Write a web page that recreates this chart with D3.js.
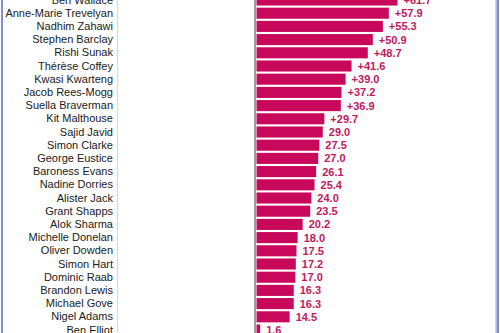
<!DOCTYPE html>
<html><head><meta charset="utf-8">
<script src="https://cdn.jsdelivr.net/npm/d3@7"></script>
<style>html,body{margin:0;padding:0;background:#fff;overflow:hidden}</style>
</head><body>
<svg id="chart" width="500" height="333"></svg>
<script>
const names = ["Ben Wallace","Anne-Marie Trevelyan","Nadhim Zahawi","Stephen Barclay","Rishi Sunak","Thérèse Coffey","Kwasi Kwarteng","Jacob Rees-Mogg","Suella Braverman","Kit Malthouse","Sajid Javid","Simon Clarke","George Eustice","Baroness Evans","Nadine Dorries","Alister Jack","Grant Shapps","Alok Sharma","Michelle Donelan","Oliver Dowden","Simon Hart","Dominic Raab","Brandon Lewis","Michael Gove","Nigel Adams","Ben Elliot"];
const values = [61.7,57.9,55.3,50.9,48.7,41.6,39.0,37.2,36.9,29.7,29.0,27.5,27.0,26.1,25.4,24.0,23.5,20.2,18.0,17.5,17.2,17.0,16.3,16.3,14.5,1.6];
const labels = ["+61.7","+57.9","+55.3","+50.9","+48.7","+41.6","+39.0","+37.2","+36.9","+29.7","29.0","27.5","27.0","26.1","25.4","24.0","23.5","20.2","18.0","17.5","17.2","17.0","16.3","16.3","14.5","1.6"];

const svg = d3.select("#chart");
const W = 500, H = 333;
const x0 = 256.5;
const x = d3.scaleLinear().domain([0, 61.7]).range([x0, 397.5]);
const y = d3.scaleBand().domain(names).range([-6.6, 336.6]).paddingInner(0.16).paddingOuter(0.08);

svg.selectAll("rect.bar").data(values).join("rect")
  .attr("class","bar")
  .attr("x", x(0))
  .attr("y", (d,i)=>y(names[i]))
  .attr("width", d=>x(d)-x(0))
  .attr("height", y.bandwidth())
  .attr("fill", "#c8085a");

svg.selectAll("text.val").data(values).join("text")
  .attr("class","val")
  .attr("x", d=>x(d)+6)
  .attr("y", (d,i)=>y(names[i])+y.bandwidth()/2)
  .attr("dy","0.36em")
  .attr("font-family","Liberation Sans, Arial, sans-serif")
  .attr("font-size","11px")
  .attr("font-weight","bold")
  .attr("fill","#c0185e")
  .text((d,i)=>labels[i]);

// value axis line
svg.append("line").attr("x1",x0-1.5).attr("x2",x0-1.5).attr("y1",0).attr("y2",H)
  .attr("stroke","#9a9a9a").attr("stroke-width",2);

// name column (right-aligned)
const ax = svg.append("g").attr("transform",`translate(117,0)`)
  .call(d3.axisLeft(y).tickSize(0).tickPadding(4));
ax.select(".domain").attr("stroke","#d8d8d8").attr("stroke-width",1);
ax.selectAll("text").attr("font-family","Liberation Sans, Arial, sans-serif")
  .attr("font-size","11px").attr("fill","#1a1a1a");

svg.append("rect").attr("x",1).attr("y",-5).attr("width",2).attr("height",H+10).attr("fill","#7f8fd6");
svg.append("rect").attr("x",495).attr("y",-5).attr("width",1.5).attr("height",H+10).attr("fill","#c9d0ea");
svg.append("rect").attr("x",496.5).attr("y",-5).attr("width",2.5).attr("height",H+10).attr("fill","#7f8fd6");
</script>
</body></html>
